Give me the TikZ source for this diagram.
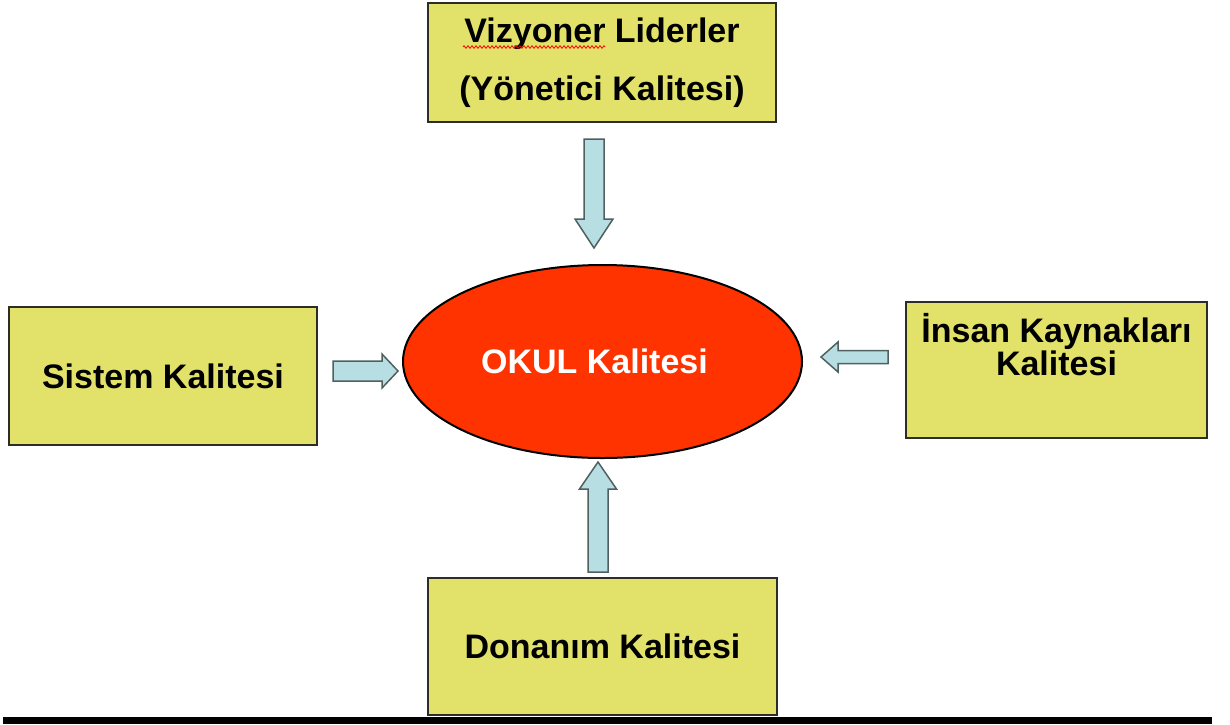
\documentclass[tikz,border=0pt]{standalone}
\usepackage{fontspec}
\setmainfont{Liberation Sans}
\usetikzlibrary{shapes.geometric,decorations.pathmorphing}
\definecolor{boxyellow}{RGB}{226,226,106}
\definecolor{boxedge}{RGB}{45,45,40}
\definecolor{okulred}{RGB}{255,51,0}
\definecolor{arrowfill}{RGB}{183,223,227}
\definecolor{arrowedge}{RGB}{80,96,96}
\tikzset{
  qbox/.style={draw=boxedge, line width=1.5pt, fill=boxyellow, inner sep=0pt,
    font=\fontsize{34}{40}\selectfont\bfseries, align=center},
  okul/.style={ellipse, draw=black, line width=2pt, fill=okulred, inner sep=0pt,
    text=white, font=\fontsize{34}{40}\selectfont\bfseries},
  arrowline/.style={draw=arrowedge, line width=1.5pt, fill=arrowfill, line join=miter},
  pics/barrow/.style n args={4}{code={
    \draw[arrowline] (0,-#2) -- ({#1-#4},-#2) -- ({#1-#4},-#3) -- (#1,0)
      -- ({#1-#4},#3) -- ({#1-#4},#2) -- (0,#2) -- cycle;}}
}
\begin{document}
\begin{tikzpicture}[x=1pt,y=-1pt]
\fill[white] (0,0) rectangle (1230,724);
\useasboundingbox (0,0) rectangle (1230,724);

% central ellipse
\node[okul, minimum width=399pt, minimum height=193pt] (okul) at (602.5,361.5)
  {OKUL Kalitesi\hspace*{16pt}};

% boxes
\node[qbox, minimum width=348pt, minimum height=119pt,
  font=\fontsize{34}{58}\selectfont\bfseries] (viz) at (602,62.5)
  {Vizyoner Liderler\\(Yönetici Kalitesi)};
\node[qbox, minimum width=308pt, minimum height=138pt] (sis) at (163,376)
  {Sistem Kalitesi};
\node[qbox, minimum width=301pt, minimum height=136pt] (ins) at (1056.5,370)
  {\parbox[c][136pt][t]{301pt}{\centering\fontsize{34}{33}\selectfont\bfseries
   \rule{0pt}{40pt}İnsan Kaynakları\\Kalitesi}};
\node[qbox, minimum width=349pt, minimum height=137pt] (don) at (602.5,646.5)
  {Donanım Kalitesi};

% spell-check underline
\draw[red, line width=0.8pt, decorate,
  decoration={zigzag, amplitude=1.3pt, segment length=4pt}] (463,47) -- (605,47);

% block arrows (tail coordinates)
\coordinate (vizA) at (594,139);
\coordinate (sisA) at (333,371);
\coordinate (insA) at (888,357);
\coordinate (donA) at (598,572);
\pic[rotate=-90] at (vizA) {barrow={109}{10}{19}{29}};
\pic at (sisA) {barrow={65}{10}{17}{16}};
\pic[rotate=180] at (insA) {barrow={67}{6.5}{15}{17}};
\pic[rotate=90] at (donA) {barrow={110}{10}{18.5}{27}};

% bottom bar
\fill[black] (3,716.5) rectangle (1212,724);
\end{tikzpicture}
\end{document}
